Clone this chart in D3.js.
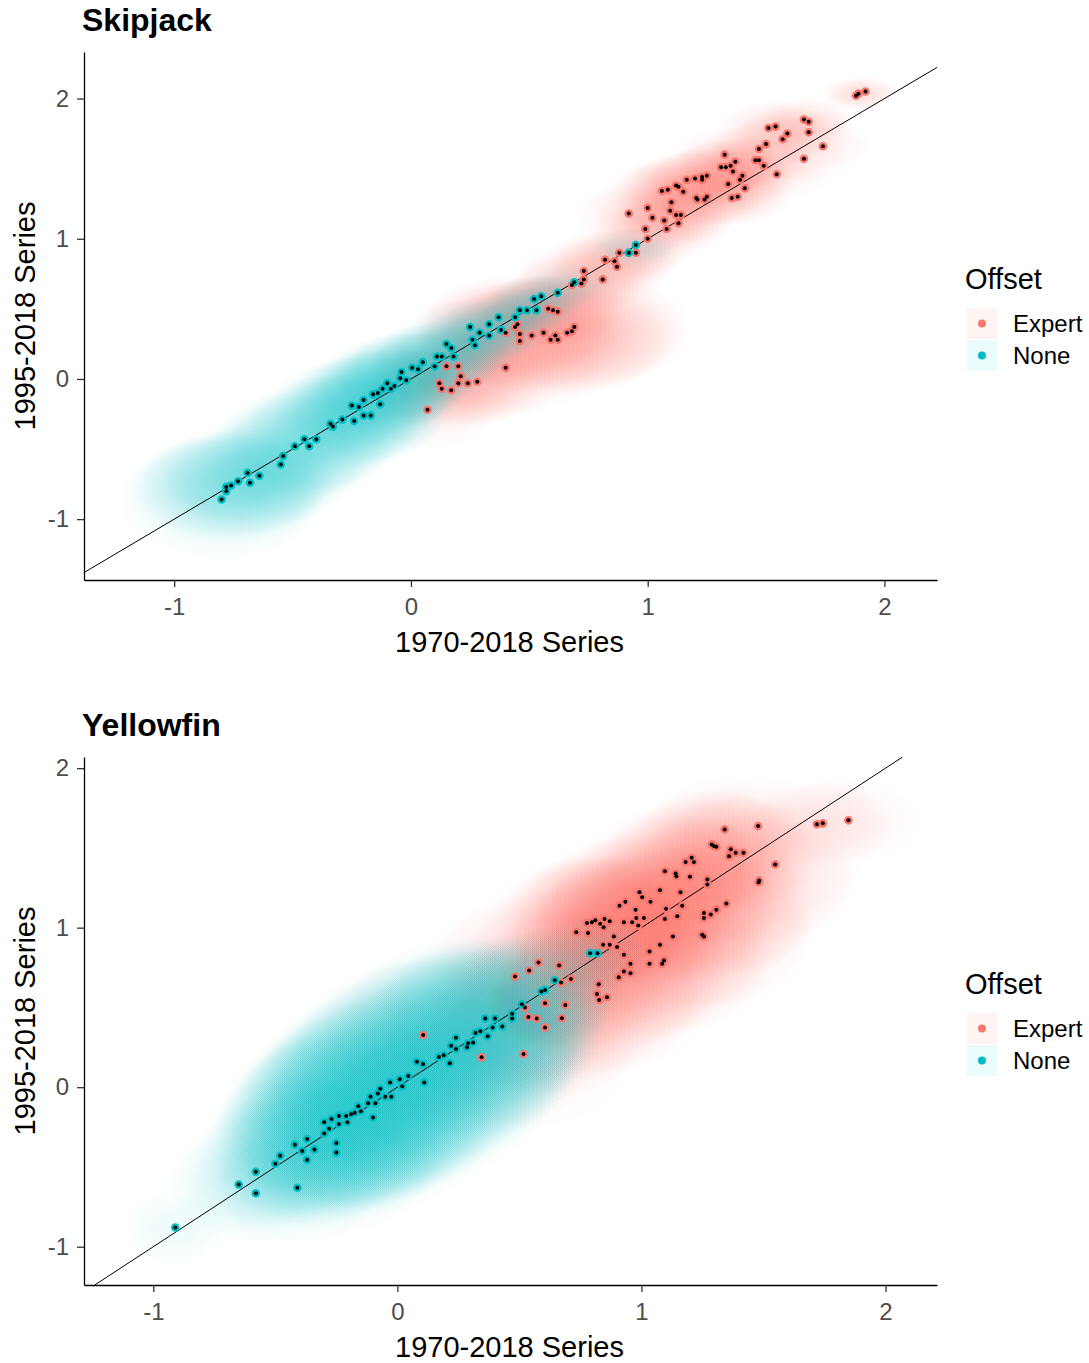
<!DOCTYPE html>
<html><head><meta charset="utf-8">
<script src="https://cdn.jsdelivr.net/npm/d3@7"></script>
<style>body{margin:0;background:#fff;} svg{display:block;font-family:"Liberation Sans",Arial,sans-serif;}</style>
</head><body>
<svg id="chart" width="1089" height="1363"></svg>
<script>
// ---------- data ----------
const offsetGroups = ["Expert", "None"];
const groupColors = ["#F8766D", "#00BFC4"];
const xTickValues = [-1, 0, 1, 2];
const yTickValues = [-1, 0, 1, 2];
const panelTitles = ["Skipjack", "Yellowfin"];
const xAxisTitle = "1970-2018 Series";
const yAxisTitle = "1995-2018 Series";

// each point: [x (1970-2018), y (1995-2018), ellipse half-width, ellipse half-height]
const skipjackNone = [
[-0.80,-0.86,0.44,0.42],[-0.78,-0.80,0.42,0.40],[-0.78,-0.77,0.40,0.38],[-0.76,-0.76,0.40,0.38],
[-0.73,-0.73,0.40,0.38],[-0.69,-0.67,0.38,0.36],[-0.68,-0.74,0.38,0.36],[-0.64,-0.69,0.38,0.36],
[-0.55,-0.61,0.36,0.36],[-0.54,-0.55,0.36,0.36],[-0.49,-0.48,0.36,0.38],[-0.45,-0.43,0.36,0.38],
[-0.43,-0.48,0.36,0.36],[-0.40,-0.43,0.36,0.36],[-0.34,-0.32,0.36,0.36],[-0.33,-0.34,0.36,0.34],
[-0.29,-0.29,0.35,0.34],[-0.24,-0.30,0.35,0.34],[-0.25,-0.19,0.35,0.34],[-0.22,-0.20,0.34,0.32],
[-0.20,-0.15,0.34,0.32],[-0.20,-0.26,0.34,0.32],[-0.17,-0.26,0.34,0.32],[-0.16,-0.11,0.33,0.30],
[-0.13,-0.18,0.33,0.30],[-0.14,-0.10,0.33,0.30],[-0.12,-0.07,0.32,0.30],[-0.10,-0.03,0.32,0.30],
[-0.085,-0.07,0.32,0.28],[-0.07,-0.05,0.32,0.28],[-0.045,0.005,0.30,0.28],[-0.04,0.05,0.30,0.28],
[-0.02,-0.01,0.30,0.28],[0.005,0.08,0.30,0.26],[0.03,0.07,0.30,0.26],[0.05,0.12,0.30,0.26],
[0.10,0.09,0.28,0.26],[0.11,0.16,0.28,0.24],[0.13,0.16,0.28,0.24],[0.15,0.25,0.26,0.22],
[0.17,0.22,0.26,0.22],[0.18,0.16,0.26,0.22],[0.25,0.37,0.24,0.20],[0.26,0.28,0.24,0.20],
[0.27,0.24,0.24,0.20],[0.29,0.33,0.24,0.20],[0.33,0.39,0.22,0.18],[0.33,0.31,0.22,0.18],
[0.37,0.44,0.22,0.18],[0.38,0.35,0.22,0.18],[0.44,0.44,0.20,0.16],[0.46,0.49,0.20,0.16],
[0.49,0.49,0.20,0.16],[0.52,0.57,0.20,0.16],[0.53,0.49,0.20,0.16],[0.55,0.59,0.20,0.16],
[0.62,0.615,0.18,0.14],[0.69,0.69,0.18,0.14],[0.92,0.90,0.18,0.12],[0.95,0.955,0.18,0.12]
];
const skipjackExpert = [
[0.07,-0.22,0.30,0.28],[0.12,-0.03,0.32,0.28],[0.13,-0.07,0.32,0.28],[0.15,0.09,0.32,0.28],
[0.17,-0.08,0.34,0.30],[0.20,0.09,0.34,0.30],[0.20,-0.03,0.34,0.30],[0.21,0.02,0.34,0.30],
[0.24,-0.03,0.36,0.30],[0.28,-0.02,0.36,0.30],[0.40,0.08,0.40,0.34],
[0.40,0.33,0.42,0.36],[0.44,0.37,0.42,0.36],[0.45,0.39,0.42,0.36],[0.46,0.32,0.44,0.38],
[0.46,0.27,0.44,0.38],[0.51,0.31,0.46,0.40],[0.56,0.33,0.48,0.40],[0.59,0.28,0.50,0.42],
[0.61,0.31,0.50,0.42],[0.62,0.28,0.50,0.42],[0.66,0.33,0.50,0.42],[0.68,0.34,0.50,0.42],
[0.69,0.37,0.50,0.42],[0.58,0.50,0.30,0.25],[0.60,0.49,0.30,0.25],[0.62,0.48,0.30,0.25],
[0.68,0.67,0.28,0.22],[0.72,0.68,0.28,0.22],[0.73,0.77,0.28,0.22],[0.73,0.71,0.28,0.22],
[0.81,0.71,0.26,0.20],[0.82,0.85,0.26,0.20],[0.86,0.84,0.26,0.20],[0.87,0.80,0.26,0.20],
[0.88,0.90,0.26,0.20],[0.92,0.90,0.24,0.18],[0.95,0.90,0.24,0.18],[1.00,1.00,0.24,0.18],
[0.99,1.07,0.24,0.18],[0.92,1.18,0.24,0.20],[1.00,1.22,0.24,0.20],[1.02,1.15,0.24,0.20],
[1.07,1.13,0.24,0.20],[1.08,1.07,0.24,0.20],[1.095,1.20,0.24,0.20],[1.10,1.26,0.24,0.20],
[1.12,1.17,0.24,0.20],[1.14,1.17,0.24,0.20],[1.13,1.11,0.24,0.20],[1.06,1.34,0.24,0.20],
[1.085,1.35,0.24,0.20],[1.12,1.38,0.24,0.20],[1.13,1.37,0.24,0.20],[1.15,1.335,0.24,0.20],
[1.165,1.42,0.24,0.20],[1.20,1.43,0.24,0.20],[1.23,1.42,0.24,0.20],[1.23,1.44,0.24,0.20],
[1.25,1.45,0.24,0.20],[1.205,1.29,0.24,0.20],[1.21,1.28,0.24,0.20],[1.24,1.28,0.24,0.20],
[1.25,1.30,0.24,0.20],[1.325,1.60,0.22,0.20],[1.31,1.51,0.22,0.20],[1.33,1.51,0.22,0.20],
[1.35,1.52,0.22,0.20],[1.36,1.48,0.22,0.20],[1.37,1.55,0.22,0.20],[1.34,1.39,0.22,0.20],
[1.355,1.29,0.22,0.20],[1.38,1.30,0.22,0.20],[1.39,1.42,0.22,0.20],[1.40,1.45,0.22,0.20],
[1.41,1.36,0.22,0.20],[1.455,1.56,0.22,0.18],[1.47,1.56,0.22,0.18],[1.49,1.52,0.22,0.18],
[1.47,1.64,0.22,0.18],[1.50,1.675,0.22,0.18],[1.51,1.79,0.22,0.18],[1.54,1.80,0.22,0.18],
[1.57,1.71,0.22,0.18],[1.59,1.75,0.22,0.18],[1.545,1.46,0.22,0.18],[1.66,1.85,0.20,0.16],
[1.68,1.835,0.20,0.16],[1.68,1.76,0.20,0.16],[1.66,1.57,0.20,0.16],[1.74,1.66,0.20,0.16],
[1.88,2.02,0.15,0.11],[1.89,2.035,0.15,0.11],[1.92,2.05,0.15,0.11]
];
const yellowfinNone = [
[-0.91,-0.88,0.21,0.22],[-0.65,-0.61,0.30,0.32],[-0.58,-0.665,0.30,0.32],[-0.58,-0.53,0.32,0.36],
[-0.50,-0.48,0.34,0.40],[-0.48,-0.43,0.34,0.40],[-0.41,-0.63,0.34,0.36],[-0.42,-0.36,0.38,0.46],
[-0.39,-0.40,0.38,0.46],[-0.37,-0.455,0.38,0.44],[-0.37,-0.325,0.40,0.50],[-0.34,-0.39,0.40,0.48],
[-0.30,-0.22,0.44,0.54],[-0.30,-0.29,0.44,0.54],[-0.27,-0.20,0.46,0.56],[-0.28,-0.26,0.46,0.56],
[-0.25,-0.35,0.44,0.52],[-0.25,-0.41,0.44,0.52],[-0.24,-0.18,0.46,0.58],[-0.24,-0.23,0.46,0.58],
[-0.21,-0.18,0.48,0.60],[-0.205,-0.22,0.48,0.60],[-0.19,-0.17,0.48,0.62],[-0.16,-0.12,0.48,0.62],
[-0.175,-0.16,0.48,0.62],[-0.15,-0.15,0.48,0.62],[-0.12,-0.10,0.50,0.64],[-0.10,-0.19,0.50,0.62],
[-0.11,-0.06,0.50,0.64],[-0.09,-0.10,0.50,0.64],[-0.08,-0.04,0.50,0.64],[-0.07,-0.01,0.50,0.64],
[-0.05,-0.06,0.50,0.64],[-0.03,0.03,0.50,0.66],[-0.025,-0.06,0.50,0.64],[0.01,0.05,0.52,0.66],
[0.02,0.006,0.52,0.66],[0.045,0.07,0.52,0.66],[0.11,0.03,0.52,0.64],[0.08,0.16,0.52,0.66],
[0.105,0.145,0.52,0.66],[0.17,0.19,0.52,0.66],[0.19,0.20,0.52,0.66],[0.215,0.15,0.52,0.64],
[0.22,0.26,0.50,0.64],[0.24,0.31,0.50,0.64],[0.24,0.24,0.50,0.62],[0.285,0.25,0.48,0.60],
[0.29,0.275,0.48,0.60],[0.31,0.28,0.48,0.60],[0.32,0.34,0.46,0.58],[0.34,0.35,0.46,0.58],
[0.37,0.32,0.46,0.56],[0.36,0.43,0.44,0.56],[0.39,0.375,0.44,0.54],[0.40,0.43,0.42,0.52],
[0.43,0.38,0.42,0.52],[0.47,0.43,0.40,0.48],[0.47,0.46,0.40,0.48],[0.51,0.52,0.36,0.44],
[0.59,0.60,0.32,0.38],[0.605,0.61,0.32,0.38],[0.645,0.67,0.30,0.34],[0.79,0.84,0.22,0.24],
[0.82,0.84,0.22,0.24]
];
const yellowfinExpert = [
[0.106,0.327,0.45,0.48],[0.345,0.187,0.45,0.48],[0.517,0.208,0.45,0.48],[0.523,0.50,0.42,0.48],
[0.537,0.44,0.42,0.48],[0.571,0.43,0.42,0.48],[0.605,0.375,0.42,0.48],[0.605,0.526,0.42,0.48],
[0.674,0.432,0.42,0.48],[0.688,0.516,0.42,0.48],[0.482,0.694,0.40,0.46],[0.540,0.732,0.40,0.46],
[0.578,0.782,0.40,0.46],[0.663,0.763,0.40,0.46],[0.671,0.656,0.40,0.46],[0.711,0.679,0.40,0.46],
[0.733,0.971,0.40,0.45],[0.781,0.967,0.40,0.45],[0.825,0.646,0.42,0.48],[0.818,0.585,0.42,0.48],
[0.827,0.547,0.42,0.48],[0.859,0.564,0.42,0.48],[0.907,0.690,0.42,0.48],[0.843,0.893,0.40,0.45],
[0.870,0.893,0.40,0.45],[0.900,0.879,0.40,0.45],[0.777,1.030,0.38,0.42],[0.797,1.034,0.38,0.42],
[0.811,1.046,0.38,0.42],[0.831,1.025,0.38,0.42],[0.845,1.002,0.38,0.42],[0.849,1.055,0.38,0.42],
[0.870,1.040,0.38,0.42],[0.887,0.945,0.40,0.42],[0.928,0.830,0.42,0.45],[0.955,0.774,0.42,0.46],
[0.955,0.715,0.42,0.46],[0.928,0.725,0.42,0.46],[0.910,1.138,0.38,0.42],[0.934,1.162,0.38,0.42],
[0.928,1.034,0.38,0.42],[0.962,1.034,0.40,0.42],[0.976,1.113,0.40,0.42],[0.979,1.061,0.40,0.42],
[0.987,1.013,0.40,0.42],[0.992,1.222,0.38,0.40],[1.003,1.191,0.38,0.40],[1.010,1.061,0.40,0.42],
[1.037,1.162,0.38,0.40],[1.033,0.851,0.45,0.46],[1.033,0.774,0.45,0.46],[1.076,0.893,0.45,0.46],
[1.085,0.774,0.45,0.46],[1.092,0.795,0.45,0.46],[1.076,1.235,0.38,0.40],[1.096,1.354,0.36,0.38],
[1.096,1.055,0.42,0.42],[1.101,1.118,0.42,0.42],[1.129,0.945,0.45,0.46],[1.140,1.340,0.36,0.38],
[1.143,1.323,0.36,0.38],[1.147,1.071,0.42,0.42],[1.160,1.222,0.38,0.40],[1.167,1.138,0.40,0.42],
[1.181,1.411,0.36,0.38],[1.199,1.319,0.36,0.38],[1.206,1.438,0.36,0.38],[1.215,1.411,0.36,0.38],
[1.270,1.302,0.38,0.40],[1.270,1.270,0.38,0.40],[1.256,1.092,0.42,0.42],[1.256,1.061,0.42,0.42],
[1.249,0.956,0.45,0.46],[1.256,0.945,0.45,0.46],[1.284,1.082,0.42,0.42],[1.307,1.113,0.42,0.42],
[1.348,1.151,0.42,0.42],[1.288,1.522,0.34,0.36],[1.298,1.511,0.34,0.36],[1.307,1.507,0.34,0.36],
[1.341,1.616,0.32,0.34],[1.359,1.448,0.34,0.36],[1.366,1.491,0.34,0.36],[1.386,1.470,0.34,0.36],
[1.418,1.470,0.34,0.36],[1.478,1.637,0.32,0.32],[1.480,1.285,0.40,0.40],[1.482,1.296,0.40,0.40],
[1.548,1.396,0.36,0.38],[1.719,1.648,0.30,0.27],[1.743,1.654,0.30,0.27],[1.848,1.673,0.30,0.27]
];

// ---------- layout ----------
const panels = [
  {title: panelTitles[0], top: 52, bottom: 580, xDomain: [-1.381, 2.222], yDomain: [-1.434, 2.332],
   series: [skipjackExpert, skipjackNone], alpha: 0.085},
  {title: panelTitles[1], top: 757, bottom: 1285, xDomain: [-1.284, 2.211], yDomain: [-1.240, 2.070],
   series: [yellowfinExpert, yellowfinNone], alpha: 0.065}
];
const left = 84, right = 937;

const svg = d3.select("#chart");
svg.append("rect").attr("width", 1089).attr("height", 1363).attr("fill", "#fff");
const defs = svg.append("defs");
panels.forEach((p, pi) => {
  offsetGroups.forEach((g, i) => {
    const grad = defs.append("radialGradient").attr("id", `grad-${pi}-${g}`)
      .attr("cx", "50%").attr("cy", "50%").attr("r", "50%");
    [[0, 1], [0.35, 0.85], [0.65, 0.55], [0.88, 0.28], [1, 0]].forEach(([o, a]) =>
      grad.append("stop").attr("offset", o).attr("stop-color", groupColors[i]).attr("stop-opacity", a * p.alpha));
  });
});

panels.forEach((p, pi) => {
  const x = d3.scaleLinear().domain(p.xDomain).range([left, right]);
  const y = d3.scaleLinear().domain(p.yDomain).range([p.bottom, p.top]);
  const g = svg.append("g");
  const clipId = "clip" + pi;
  defs.append("clipPath").attr("id", clipId).append("rect")
    .attr("x", left).attr("y", p.top).attr("width", right - left).attr("height", p.bottom - p.top);
  const plot = g.append("g").attr("clip-path", `url(#${clipId})`);

  // ellipses
  p.series.forEach((data, si) => {
    plot.append("g").selectAll("ellipse").data(data).join("ellipse")
      .attr("cx", d => x(d[0])).attr("cy", d => y(d[1]))
      .attr("rx", d => x(d[2]) - x(0)).attr("ry", d => y(0) - y(d[3]))
      .attr("fill", `url(#grad-${pi}-${offsetGroups[si]})`);
  });

  // 1:1 line
  const lo = Math.max(p.xDomain[0], p.yDomain[0]), hi = Math.min(p.xDomain[1], p.yDomain[1]);
  plot.append("line").attr("x1", x(lo)).attr("y1", y(lo)).attr("x2", x(hi)).attr("y2", y(hi))
    .attr("stroke", "#000").attr("stroke-width", 1);

  // points
  p.series.forEach((data, si) => {
    plot.append("g").selectAll("circle").data(data).join("circle")
      .attr("cx", d => x(d[0])).attr("cy", d => y(d[1])).attr("r", 4.3)
      .attr("fill", groupColors[si]);
  });
  p.series.forEach((data) => {
    plot.append("g").selectAll("circle").data(data).join("circle")
      .attr("cx", d => x(d[0])).attr("cy", d => y(d[1])).attr("r", 2)
      .attr("fill", "#000");
  });

  // axes
  const xAxis = d3.axisBottom(x).tickValues(xTickValues).tickSize(7).tickSizeOuter(0).tickPadding(11).tickFormat(d3.format("d"));
  const yAxis = d3.axisLeft(y).tickValues(yTickValues).tickSize(7).tickSizeOuter(0).tickPadding(8).tickFormat(d3.format("d"));
  const gx = g.append("g").attr("transform", `translate(0,${p.bottom})`).call(xAxis);
  const gy = g.append("g").attr("transform", `translate(${left},0)`).call(yAxis);
  [gx, gy].forEach(ax => {
    ax.select(".domain").attr("stroke", "#000").attr("stroke-width", 1.3);
    ax.selectAll(".tick line").attr("stroke", "#333").attr("stroke-width", 1.3);
    ax.selectAll(".tick text").attr("fill", "#4D4D4D").style("font-size", "24px")
      .style("font-family", '"Liberation Sans",Arial,sans-serif');
  });
  gx.selectAll(".tick text").text(d => d < 0 ? "-" + Math.abs(d) : d);
  gy.selectAll(".tick text").text(d => d < 0 ? "-" + Math.abs(d) : d);

  // titles
  g.append("text").attr("x", 82).attr("y", p.top - 21).text(p.title)
    .style("font-size", "32px").style("font-weight", "bold").attr("fill", "#000");
  g.append("text").attr("x", (left + right) / 2 - 1).attr("y", p.bottom + 72).attr("text-anchor", "middle")
    .text(xAxisTitle).style("font-size", "29px").attr("fill", "#000");
  g.append("text").attr("transform", `translate(35,${(p.top + p.bottom) / 2}) rotate(-90)`)
    .attr("text-anchor", "middle").text(yAxisTitle).style("font-size", "29px").attr("fill", "#000");

  // legend
  const ly = p.top + 237;
  const leg = g.append("g");
  leg.append("text").attr("x", 965).attr("y", ly).text("Offset").style("font-size", "29px").attr("fill", "#000");
  offsetGroups.forEach((name, i) => {
    const ky = ly + 19 + i * 32;
    leg.append("rect").attr("x", 967).attr("y", ky).attr("width", 30).attr("height", 31)
      .attr("fill", groupColors[i]).attr("fill-opacity", 0.08);
    leg.append("circle").attr("cx", 982).attr("cy", ky + 15.5).attr("r", 4).attr("fill", groupColors[i]);
    leg.append("text").attr("x", 1013).attr("y", ky + 24).text(name).style("font-size", "24px").attr("fill", "#000");
  });
});
</script>
</body></html>
